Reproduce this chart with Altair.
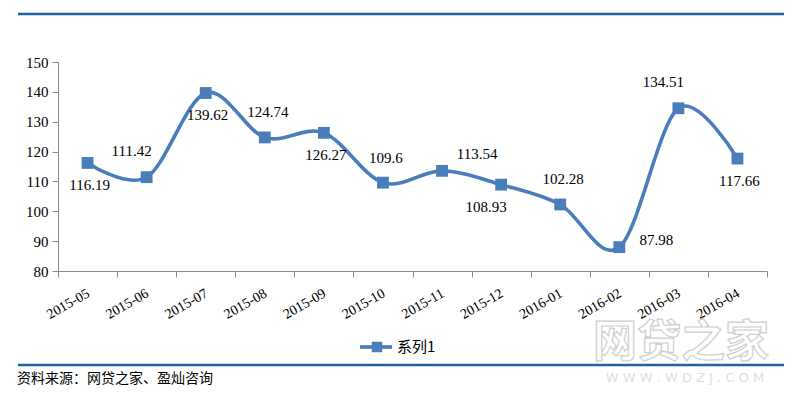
import altair as alt
import pandas as pd

months = ["2015-05", "2015-06", "2015-07", "2015-08", "2015-09", "2015-10",
          "2015-11", "2015-12", "2016-01", "2016-02", "2016-03", "2016-04"]
values = [116.19, 111.42, 139.62, 124.74, 126.27, 109.6,
          113.54, 108.93, 102.28, 87.98, 134.51, 117.66]
labels = ["116.19", "111.42", "139.62", "124.74", "126.27", "109.6",
          "113.54", "108.93", "102.28", "87.98", "134.51", "117.66"]
series_name = "系列1"
source_text = "资料来源：网贷之家、盈灿咨询"
y_ticks = [80, 90, 100, 110, 120, 130, 140, 150]

df = pd.DataFrame({"month": months, "value": values, "label": labels})

BLUE = "#4A7EBB"
DARK = "#1F63A3"
SERIF = "Liberation Serif"
CJK = "Noto Sans CJK SC"

x_enc = alt.X(
    "month:N", sort=months, bandPosition=0.5,
    scale=alt.Scale(type="band", paddingInner=0, paddingOuter=0),
    axis=alt.Axis(title=None, tickBand="extent", labelAngle=330, labelAlign="right",
                  labelBaseline="top", labelFont=SERIF, labelFontSize=14,
                  labelColor="#000", domainColor="#8c8c8c", tickColor="#8c8c8c",
                  tickSize=6, labelPadding=9, labelOffset=-3, grid=False),
)
y_enc = alt.Y(
    "value:Q",
    scale=alt.Scale(domain=[80, 150], nice=False, zero=False),
    axis=alt.Axis(title=None, values=y_ticks, grid=False, labelFont=SERIF,
                  labelFontSize=15, labelColor="#000", domainColor="#8c8c8c",
                  tickColor="#8c8c8c", tickSize=6, labelPadding=4),
)

base = alt.Chart(df).encode(x=x_enc, y=y_enc)

line = base.mark_line(interpolate="cardinal", color=BLUE, strokeWidth=3.6)
pts = base.mark_point(shape="square", filled=True, size=140, color=BLUE, opacity=1)

# label placement groups (like Excel's label position setting)
placements = [
    (["2015-05", "2015-07", "2015-09", "2016-04"], 2, 22),   # below
    (["2015-08", "2015-10", "2016-01"], 3, -25),              # above
    (["2015-06", "2016-03"], -15, -26),                       # above-left
    (["2015-11"], 35, -17),                                   # above-right
    (["2015-12"], -15, 22),                                   # below-left
    (["2016-02"], 37, -7),                                    # right
]
text_layers = []
for group, dx, dy in placements:
    text_layers.append(
        base.mark_text(font=SERIF, fontSize=15, color="#000", dx=dx, dy=dy,
                       baseline="middle", align="center")
        .encode(text="label:N")
        .transform_filter(alt.FieldOneOfPredicate(field="month", oneOf=group))
    )

one = pd.DataFrame({"a": [0]})
top_rule = alt.Chart(one).mark_rule(color=DARK, strokeWidth=2.5).encode(
    x=alt.value(-40), x2=alt.value(726), y=alt.value(-48))
bottom_rule = alt.Chart(one).mark_rule(color=DARK, strokeWidth=2.5).encode(
    x=alt.value(-40), x2=alt.value(726), y=alt.value(303))
src = alt.Chart(one).mark_text(font=CJK, fontSize=14, color="#000", align="left",
                               baseline="middle").encode(
    x=alt.value(-41), y=alt.value(317), text=alt.value(source_text))

leg_line = alt.Chart(one).mark_rule(color=BLUE, strokeWidth=3.6).encode(
    x=alt.value(302), x2=alt.value(334), y=alt.value(285))
leg_pt = alt.Chart(one).mark_point(shape="square", filled=True, size=110,
                                   color=BLUE, opacity=1).encode(
    x=alt.value(319), y=alt.value(285))
leg_txt = alt.Chart(one).mark_text(font=CJK, fontSize=15, color="#000", align="left",
                                   baseline="middle").encode(
    x=alt.value(339), y=alt.value(285), text=alt.value(series_name))

wm = alt.Chart(one).mark_text(font=CJK, fontSize=44, fontWeight="bold", color="white",
                              stroke="#d0d0d0", strokeWidth=1.2, align="center",
                              baseline="middle").encode(
    x=alt.value(623), y=alt.value(282), text=alt.value("网贷之家"))
wm2 = alt.Chart(one).mark_text(font="DejaVu Sans", fontSize=13, color="#e0e0e0",
                               align="center", baseline="middle").encode(
    x=alt.value(627), y=alt.value(316), text=alt.value("W W W . W D Z J . C O M"))

chart = alt.layer(
    wm, wm2, top_rule, bottom_rule, src, leg_line, leg_pt, leg_txt,
    line, pts, *text_layers
).properties(
    width=709, height=209,
    autosize=alt.AutoSizeParams(type="none"),
    padding={"left": 50, "top": 54, "right": 25, "bottom": 115},
    background="white",
).configure_view(stroke=None)

chart.save("out.html", embed_options={"renderer": "svg", "actions": False})
